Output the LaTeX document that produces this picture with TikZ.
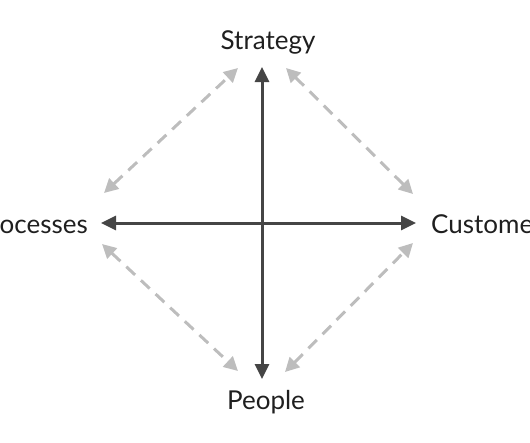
\documentclass[tikz,border=0pt]{standalone}
\usepackage{fontspec}
\setmainfont{Lato}
\usetikzlibrary{arrows.meta}
\definecolor{darkline}{HTML}{454545}
\definecolor{lightline}{HTML}{BDBDBD}
\begin{document}
\begin{tikzpicture}[x=1pt,y=-1pt,
  lbl/.style={font=\fontsize{26}{30}\selectfont, text=black!88, inner sep=0pt},
  axis/.style={draw=darkline, line width=3pt, {Triangle[length=15pt,width=14pt]}-{Triangle[length=15pt,width=14pt]}},
  link/.style={draw=lightline, line width=3pt, dash pattern=on 12pt off 8pt, {Triangle[length=14pt,width=14pt]}-{Triangle[length=14pt,width=14pt]}}]
\useasboundingbox (0,0) rectangle (530,442);
\clip (0,0) rectangle (530,442);
\node[lbl] (strategy) at (268,42) {Strategy};
\node[lbl, anchor=east] (processes) at (88,224) {Processes};
\node[lbl, anchor=west] (customers) at (431,224) {Customers};
\node[lbl] (people) at (266,402) {People};
\coordinate (top) at (262,67);
\coordinate (bottom) at (262,379);
\coordinate (left) at (101,223);
\coordinate (right) at (416,223);
\coordinate (tl1) at (104,193); \coordinate (tl2) at (238,68);
\coordinate (tr1) at (286,68); \coordinate (tr2) at (413,194);
\coordinate (bl1) at (102,244); \coordinate (bl2) at (238,371);
\coordinate (br1) at (285,372); \coordinate (br2) at (413,243);
\draw[axis] (top) -- (bottom);
\draw[axis] (left) -- (right);
\draw[link] (tl1) -- (tl2);
\draw[link] (tr1) -- (tr2);
\draw[link] (bl1) -- (bl2);
\draw[link] (br1) -- (br2);
\end{tikzpicture}
\end{document}
